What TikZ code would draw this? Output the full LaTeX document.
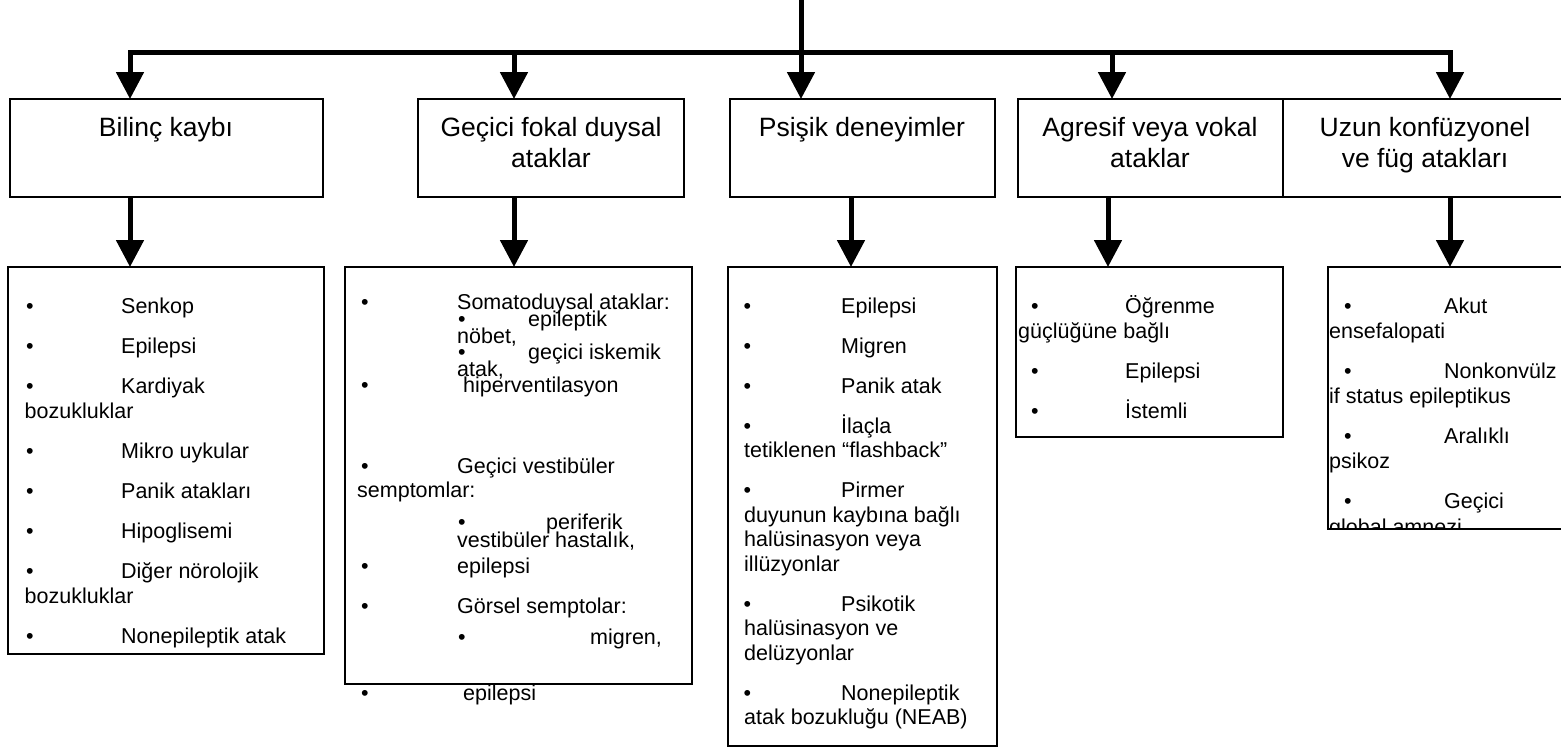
\documentclass[tikz,border=0pt]{standalone}
\usepackage{fontspec}
\setmainfont{Liberation Sans}
\usetikzlibrary{arrows.meta}
\newcommand\bul[1]{\makebox[#1pt][l]{•}}
\begin{document}
\begin{tikzpicture}[x=1pt,y=-1pt,
  conn/.style={line width=5pt,line cap=rect},
  arr/.style={line width=5pt,-{Triangle[width=27pt,length=27pt]}},
  box/.style={draw,line width=2pt,inner sep=0pt,outer sep=0pt,anchor=north west},
  htxt/.style={inner sep=0pt,anchor=base,font=\fontsize{26.5}{30.5}\selectfont},
  btxt/.style={inner sep=0pt,anchor=base west,font=\fontsize{21.5}{25}\selectfont}
]
\useasboundingbox (0,0) rectangle (1561,748);
% header boxes
\node[box,minimum width=313pt,minimum height=98pt] (h1) at (10,99) {};
\node[box,minimum width=266pt,minimum height=98pt] (h2) at (418,99) {};
\node[box,minimum width=265pt,minimum height=98pt] (h3) at (730,99) {};
\node[box,minimum width=265pt,minimum height=98pt] (h4) at (1018,99) {};
\node[box,minimum width=300pt,minimum height=98pt] (h5) at (1283,99) {};
% body boxes
\node[box,minimum width=316pt,minimum height=387pt] (b1) at (8,267) {};
\node[box,minimum width=347pt,minimum height=417pt] (b2) at (345,267) {};
\node[box,minimum width=269pt,minimum height=479pt] (b3) at (728,267) {};
\node[box,minimum width=267pt,minimum height=170pt] (b4) at (1016,267) {};
\node[box,minimum width=260pt,minimum height=262pt] (b5) at (1328,267) {};
% connectors
\coordinate (top) at (801,0);
\coordinate (jc) at (801,52);
\coordinate (j1) at (130,52);
\coordinate (j2) at (514,52);
\coordinate (j3) at (801,52);
\coordinate (j4) at (1112,52);
\coordinate (j5) at (1450,52);
\coordinate (l1) at (130,0);
\coordinate (l2) at (514,0);
\coordinate (l3) at (851,0);
\coordinate (l4) at (1108,0);
\coordinate (l5) at (1450,0);
\draw[line width=5pt] (top) -- (jc);
\draw[conn] (j1) -- (j5);
\foreach \i in {1,...,5}{
  \draw[arr] (j\i) -- (j\i |- h\i.north);
  \draw[arr] (h\i.south -| l\i) -- (b\i.north -| l\i);
}
% header texts
\node[htxt] (h1t) at (166,136) {Bilinç kaybı};
\node[htxt] (h2t) at (551,136) {Geçici fokal duysal};
\node[htxt] (h2u) at (551,167) {ataklar};
\node[htxt] (h3t) at (862,136) {Psişik deneyimler};
\node[htxt] (h4t) at (1150,136) {Agresif veya vokal};
\node[htxt] (h4u) at (1150,167) {ataklar};
\node[htxt] (h5t) at (1425,136) {Uzun konfüzyonel};
\node[htxt] (h5u) at (1425,167) {ve füg atakları};
% box 1
\begin{scope}
\clip (b1.north west) rectangle (b1.south east);
\node[btxt] (t1a) at (26,313) {\bul{95}Senkop};
\node[btxt] (t1b) at (26,353) {\bul{95}Epilepsi};
\node[btxt] (t1c) at (26,393) {\bul{95}Kardiyak};
\node[btxt] (t1d) at (24.5,418) {bozukluklar};
\node[btxt] (t1e) at (26,458) {\bul{95}Mikro uykular};
\node[btxt] (t1f) at (26,498) {\bul{95}Panik atakları};
\node[btxt] (t1g) at (26,538) {\bul{95}Hipoglisemi};
\node[btxt] (t1h) at (26,578) {\bul{95}Diğer nörolojik};
\node[btxt] (t1i) at (24.5,603) {bozukluklar};
\node[btxt] (t1j) at (26,643) {\bul{95}Nonepileptik atak};
\end{scope}
% box 2
\node[btxt] (t2a) at (361,309) {\bul{96}Somatoduysal ataklar:};
\node[btxt] (t2b) at (458,326) {\bul{70}epileptik};
\node[btxt] (t2c) at (457,343) {nöbet,};
\node[btxt] (t2d) at (458,359.5) {\bul{70}geçici iskemik};
\node[btxt] (t2e) at (457,376) {atak,};
\node[btxt] (t2f) at (361,392.5) {\bul{96} hiperventilasyon};
\node[btxt] (t2g) at (361,473) {\bul{96}Geçici vestibüler};
\node[btxt] (t2h) at (357,497) {semptomlar:};
\node[btxt] (t2i) at (458,529) {\bul{88}periferik};
\node[btxt] (t2j) at (457,547) {vestibüler hastalık,};
\node[btxt] (t2k) at (361,573) {\bul{96}epilepsi};
\node[btxt] (t2l) at (361,613) {\bul{96}Görsel semptolar:};
\node[btxt] (t2m) at (458,644) {\bul{132}migren,};
\node[btxt] (t2n) at (361,700) {\bul{96} epilepsi};
% box 3
\node[btxt] (t3a) at (743.5,313) {\bul{97.5}Epilepsi};
\node[btxt] (t3b) at (743.5,353) {\bul{97.5}Migren};
\node[btxt] (t3c) at (743.5,393) {\bul{97.5}Panik atak};
\node[btxt] (t3d) at (743.5,433) {\bul{97.5}İlaçla};
\node[btxt] (t3e) at (744,457.5) {tetiklenen “flashback”};
\node[btxt] (t3f) at (743.5,497.5) {\bul{97.5}Pirmer};
\node[btxt] (t3g) at (744,522) {duyunun kaybına bağlı};
\node[btxt] (t3h) at (744,546.5) {halüsinasyon veya};
\node[btxt] (t3i) at (744,571) {illüzyonlar};
\node[btxt] (t3j) at (743.5,611) {\bul{97.5}Psikotik};
\node[btxt] (t3k) at (744,635.5) {halüsinasyon ve};
\node[btxt] (t3l) at (744,660) {delüzyonlar};
\node[btxt] (t3m) at (743.5,700) {\bul{97.5}Nonepileptik};
\node[btxt] (t3n) at (744,724.5) {atak bozukluğu (NEAB)};
% box 4
\node[btxt] (t4a) at (1031,313) {\bul{94}Öğrenme};
\node[btxt] (t4b) at (1018,338) {güçlüğüne bağlı};
\node[btxt] (t4c) at (1031,378) {\bul{94}Epilepsi};
\node[btxt] (t4d) at (1031,418) {\bul{94}İstemli};
% box 5
\begin{scope}
\clip (b5.north west) rectangle (b5.south east);
\node[btxt] (t5a) at (1344,313) {\bul{100}Akut};
\node[btxt] (t5b) at (1329,338) {ensefalopati};
\node[btxt] (t5c) at (1344,378) {\bul{100}Nonkonvülz};
\node[btxt] (t5d) at (1329,403) {if status epileptikus};
\node[btxt] (t5e) at (1344,443) {\bul{100}Aralıklı};
\node[btxt] (t5f) at (1329,468) {psikoz};
\node[btxt] (t5g) at (1344,508) {\bul{100}Geçici};
\node[btxt] (t5h) at (1329,534) {global amnezi};
\end{scope}
\end{tikzpicture}
\end{document}
